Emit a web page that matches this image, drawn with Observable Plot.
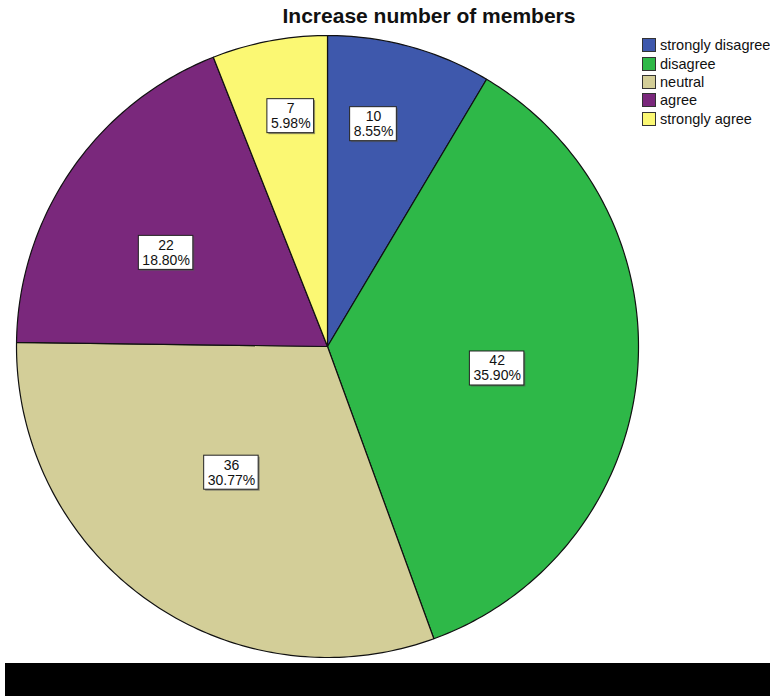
<!DOCTYPE html>
<html>
<head>
<meta charset="utf-8">
<script src="https://cdn.jsdelivr.net/npm/d3@7"></script>
<script src="https://cdn.jsdelivr.net/npm/@observablehq/plot@0.6"></script>
<style>
  html, body { margin: 0; padding: 0; background: #fff; }
  #wrap { position: relative; width: 770px; height: 696px; overflow: hidden; font-family: "Liberation Sans", Arial, sans-serif; }
  #title { position: absolute; top: 4px; left: 429px; transform: translateX(-50%); font-size: 21px; font-weight: bold; white-space: nowrap; color: #111; }
  #legend { position: absolute; left: 642px; top: 36px; font-size: 14.5px; color: #111; }
  .row { height: 18.4px; display: flex; align-items: center; white-space: nowrap; }
  .sw { width: 12px; height: 12px; border: 1px solid #333; margin-right: 4px; box-sizing: content-box; flex: none; }
  #band { position: absolute; left: 5px; top: 663px; width: 765px; height: 33px; background: #000; }
  #chart { position: absolute; left: 0; top: 0; }
</style>
</head>
<body>
<div id="wrap">
  <div id="chart"></div>
  <div id="title">Increase number of members</div>
  <div id="legend"></div>
  <div id="band"></div>
</div>
<script>
// ---- data ----
const categories = ["strongly disagree", "disagree", "neutral", "agree", "strongly agree"];
const counts = [10, 42, 36, 22, 7];
const colors = ["#3E58AC", "#2EB848", "#D3CE98", "#7A287C", "#FBF873"];
// label placement (layout): fraction of radius and angular nudge (degrees) from slice mid-angle
const labelRadius = [0.73, 0.55, 0.51, 0.60, 0.75];
const labelNudge = [-3.7, 2, 1.9, -4.5, 1.7];

const total = d3.sum(counts);
const pie = d3.pie().sort(null).value(d => d)(counts);

// slice polygons in unit coords (clockwise from top)
const polys = [];
pie.forEach((p, i) => {
  const n = Math.max(4, Math.ceil((p.endAngle - p.startAngle) / (Math.PI * 2) * 400));
  polys.push({key: categories[i], x: 0, y: 0});
  for (let k = 0; k <= n; k++) {
    const a = p.startAngle + (p.endAngle - p.startAngle) * k / n;
    polys.push({key: categories[i], x: Math.sin(a), y: Math.cos(a)});
  }
  polys.push({key: categories[i], x: 0, y: 0});
});

// labels
const FS = 14;
const ctx = document.createElement("canvas").getContext("2d");
ctx.font = FS + "px 'Liberation Sans'";
const pxPerUnit = 311; // radius in px
const labels = pie.map((p, i) => {
  const a = (p.startAngle + p.endAngle) / 2 + labelNudge[i] * Math.PI / 180;
  const r = labelRadius[i];
  const pct = (counts[i] / total * 100).toFixed(2) + "%";
  const w = (Math.max(ctx.measureText(pct).width, ctx.measureText(String(counts[i])).width) + 7) / pxPerUnit;
  const h = 34 / pxPerUnit;
  const x = r * Math.sin(a), y = r * Math.cos(a);
  return {count: String(counts[i]), pct, x, y, x1: x - w / 2, x2: x + w / 2, y1: y - h / 2, y2: y + h / 2};
});
const off = 1.5 / pxPerUnit;
const shadow = labels.map(d => ({x1: d.x1 + off, x2: d.x2 + off, y1: d.y1 - off, y2: d.y2 - off}));

const chart = Plot.plot({
  width: 770,
  height: 663,
  margin: 0,
  x: {domain: [-1, 1], range: [16, 638], axis: null},
  y: {domain: [-1, 1], range: [657, 35], axis: null},
  color: {domain: categories, range: colors},
  style: {fontFamily: "'Liberation Sans', Arial, sans-serif", background: "transparent"},
  marks: [
    Plot.line(polys, {x: "x", y: "y", z: "key", fill: "key", stroke: "#111", strokeWidth: 1.2, curve: "linear"}),
    Plot.rect(shadow, {x1: "x1", x2: "x2", y1: "y1", y2: "y2", fill: "#555", fillOpacity: 0.6}),
    Plot.rect(labels, {x1: "x1", x2: "x2", y1: "y1", y2: "y2", fill: "white", stroke: "#222", strokeWidth: 1}),
    Plot.text(labels, {x: "x", y: "y", text: "count", dy: -7.5, fontSize: FS, lineAnchor: "middle", fill: "#111"}),
    Plot.text(labels, {x: "x", y: "y", text: "pct", dy: 7.5, fontSize: FS, lineAnchor: "middle", fill: "#111"})
  ]
});
document.getElementById("chart").appendChild(chart);

// legend
const leg = document.getElementById("legend");
categories.forEach((c, i) => {
  const row = document.createElement("div");
  row.className = "row";
  const sw = document.createElement("div");
  sw.className = "sw";
  sw.style.background = colors[i];
  const t = document.createElement("span");
  t.textContent = c;
  row.appendChild(sw);
  row.appendChild(t);
  leg.appendChild(row);
});
</script>
</body>
</html>
